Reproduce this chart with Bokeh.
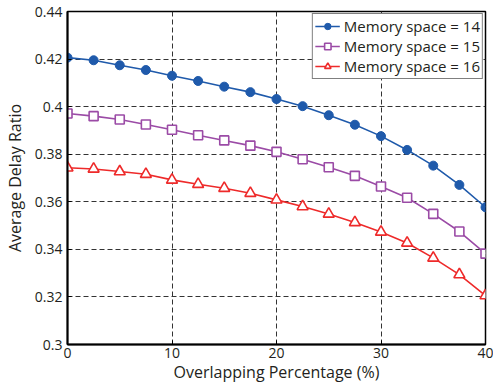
from bokeh.plotting import figure
from bokeh.models import Range1d, FixedTicker, Legend, LegendItem
from bokeh.embed import file_html
from bokeh.resources import INLINE

overlap = [0, 2.5, 5, 7.5, 10, 12.5, 15, 17.5, 20, 22.5, 25, 27.5, 30, 32.5, 35, 37.5, 40]
mem14 = [0.4206, 0.4195, 0.4174, 0.4154, 0.4130, 0.4108, 0.4084, 0.4061, 0.4032,
         0.4002, 0.3964, 0.3924, 0.3876, 0.3818, 0.3752, 0.3671, 0.3577]
mem15 = [0.3971, 0.3960, 0.3946, 0.3925, 0.3903, 0.3880, 0.3858, 0.3836, 0.3810,
         0.3779, 0.3745, 0.3709, 0.3664, 0.3617, 0.3549, 0.3475, 0.3382]
mem16 = [0.3743, 0.3738, 0.3727, 0.3716, 0.3692, 0.3674, 0.3657, 0.3636, 0.3608,
         0.3580, 0.3549, 0.3513, 0.3473, 0.3427, 0.3364, 0.3294, 0.3206]
labels = ["Memory space = 14", "Memory space = 15", "Memory space = 16"]
x_ticks = [0, 10, 20, 30, 40]
y_ticks = [0.30, 0.32, 0.34, 0.36, 0.38, 0.40, 0.42, 0.44]
y_tick_labels = ["0.3", "0.32", "0.34", "0.36", "0.38", "0.4", "0.42", "0.44"]

FONT = "Open Sans"
TXT = "#231f20"
BLUE = "#1f5aab"
PURPLE = "#9b4ba6"
RED = "#ee2a2a"

p = figure(width=493, height=385, output_backend="svg", toolbar_location=None,
           x_range=Range1d(0, 40), y_range=Range1d(0.3, 0.44),
           min_border_left=67, min_border_right=8, min_border_top=11, min_border_bottom=40)
p.background_fill_color = "white"
p.border_fill_color = "white"
p.outline_line_color = "black"
p.outline_line_width = 1.5
p.outline_line_alpha = 1

for ax in (p.xaxis[0], p.yaxis[0]):
    ax.axis_line_color = "black"
    ax.axis_line_width = 2
    ax.major_tick_in = 4
    ax.major_tick_out = 0
    ax.minor_tick_line_color = None
    ax.major_tick_line_color = "black"
    ax.major_label_text_font = FONT
    ax.major_label_text_font_size = "14px"
    ax.major_label_text_color = TXT
    ax.axis_label_text_font = FONT
    ax.axis_label_text_font_size = "16px"
    ax.axis_label_text_font_style = "normal"
    ax.axis_label_text_color = TXT

p.xaxis.ticker = FixedTicker(ticks=x_ticks)
p.yaxis.ticker = FixedTicker(ticks=y_ticks)
p.yaxis.major_label_overrides = {t: l for t, l in zip(y_ticks, y_tick_labels)}
p.xaxis.axis_label = "Overlapping Percentage (%)"
p.yaxis.axis_label = "Average Delay Ratio"
p.xaxis.major_label_standoff = 3
p.yaxis.major_label_standoff = 5
p.xaxis.axis_label_standoff = 0
p.yaxis.axis_label_standoff = 6

for g in (p.xgrid[0], p.ygrid[0]):
    g.grid_line_color = "#333333"
    g.grid_line_dash = "5 3"
    g.grid_line_width = 1
p.xgrid.ticker = FixedTicker(ticks=x_ticks)
p.ygrid.ticker = FixedTicker(ticks=y_ticks)

l1 = p.line(overlap, mem14, color=BLUE, line_width=1.6)
s1 = p.scatter(overlap, mem14, marker="circle", size=9, fill_color=BLUE, line_color=BLUE)
l2 = p.line(overlap, mem15, color=PURPLE, line_width=1.6)
s2 = p.scatter(overlap, mem15, marker="square", size=9, fill_color="white", line_color=PURPLE, line_width=1.6)
l3 = p.line(overlap, mem16, color=RED, line_width=1.6)
s3 = p.scatter(overlap, mem16, marker="triangle", size=11, fill_color="white", line_color=RED, line_width=1.6)

legend = Legend(items=[LegendItem(label=labels[0], renderers=[l1, s1]),
                       LegendItem(label=labels[1], renderers=[l2, s2]),
                       LegendItem(label=labels[2], renderers=[l3, s3])],
                location="top_right")
legend.margin = 2
legend.padding = 2
legend.spacing = -4
legend.glyph_width = 25
legend.glyph_height = 16
legend.label_height = 16
legend.label_standoff = 4
legend.label_text_font = FONT
legend.label_text_font_size = "15px"
legend.label_text_color = TXT
legend.border_line_color = "black"
legend.border_line_width = 1.5
legend.background_fill_color = "white"
legend.background_fill_alpha = 1
p.add_layout(legend)

open("out.html", "w").write(file_html(p, INLINE))
